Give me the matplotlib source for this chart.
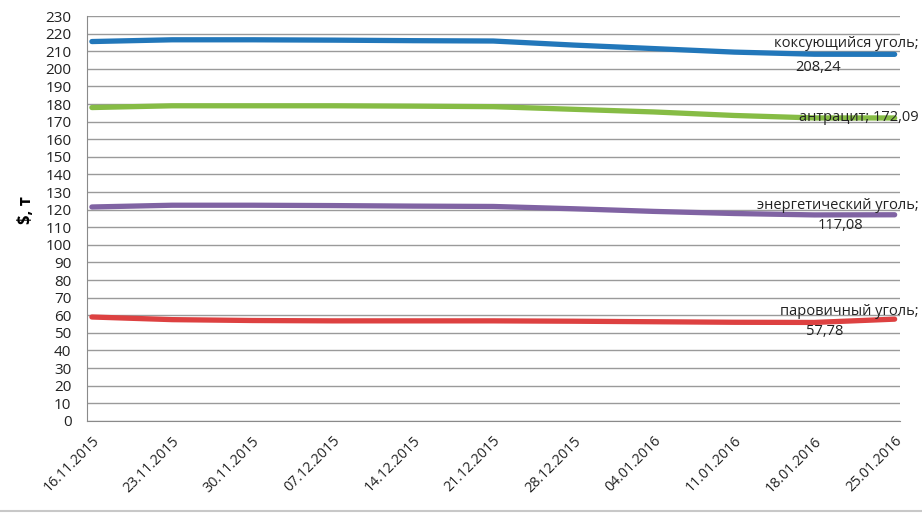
import numpy as np
import matplotlib
matplotlib.use("Agg")
import matplotlib.pyplot as plt
import matplotlib.transforms as mtransforms

plt.rcParams['font.family'] = ['Open Sans', 'DejaVu Sans']

# weekly dates on the x axis
dates = ["16.11.2015", "23.11.2015", "30.11.2015", "07.12.2015", "14.12.2015",
         "21.12.2015", "28.12.2015", "04.01.2016", "11.01.2016", "18.01.2016",
         "25.01.2016"]

# prices, $ per tonne
coking = [215.5, 216.5, 216.5, 216.3, 216.0, 215.8, 213.5, 211.5, 209.5, 208.3, 208.24]
anthracite = [178.0, 179.0, 179.0, 179.0, 178.8, 178.5, 177.0, 175.5, 173.5, 172.1, 172.09]
energy = [121.5, 122.5, 122.5, 122.3, 122.0, 121.8, 120.5, 119.0, 117.8, 117.0, 117.08]
steam = [59.0, 57.5, 57.0, 56.8, 56.8, 56.8, 56.6, 56.3, 56.0, 55.9, 57.78]

colors = ["#2277BA", "#86BC45", "#8063A3", "#DD4141"]

fig = plt.figure(figsize=(9.22, 5.17), dpi=100)
ax = fig.add_axes([0.094, 0.186, 0.882, 0.783])

x = np.arange(len(dates))
for vals, col in zip([coking, anthracite, energy, steam], colors):
    ax.plot(x, vals, color=col, lw=3.8, solid_capstyle='round',
            solid_joinstyle='round', zorder=3)

ax.set_xlim(-0.065, 10.065)
ax.set_ylim(0, 230)
ax.set_yticks(np.arange(0, 231, 10))
ax.yaxis.grid(True, color='#9a9a9a', lw=1.0)
ax.set_axisbelow(True)
for s in ['top', 'right']:
    ax.spines[s].set_visible(False)
ax.spines['left'].set_color('#8a8a8a')
ax.spines['bottom'].set_color('#8a8a8a')
ax.tick_params(axis='y', length=0, pad=11, labelsize=11, colors='#222222')
ax.tick_params(axis='x', length=0, pad=13, labelsize=10.3, colors='#222222')
ax.set_xticks(x)
ax.set_xticklabels(dates, rotation=45, ha='right', va='center',
                   rotation_mode='anchor')
shift = mtransforms.ScaledTranslation(5 / 100, 0, fig.dpi_scale_trans)
for lab in ax.get_xticklabels():
    lab.set_transform(lab.get_transform() + shift)
ax.set_ylabel("$, т", fontsize=12, fontweight='bold')
ax.yaxis.set_label_coords(-0.063, 0.52)

# end-of-line data labels
last = len(dates) - 1
kw = dict(fontsize=10.5, va='center', color='#222222', clip_on=False, zorder=4)
ax.text(10.30, coking[last] + 6, "коксующийся уголь;", ha='right', **kw)
ax.text(9.05, coking[last] - 7.5, "208,24", ha='center', **kw)
ax.text(10.30, anthracite[last], "антрацит; 172,09", ha='right', **kw)
ax.text(10.30, energy[last] + 5, "энергетический уголь;", ha='right', **kw)
ax.text(9.32, energy[last] - 6, "117,08", ha='center', **kw)
ax.text(10.30, steam[last] + 4.5, "паровичный уголь;", ha='right', **kw)
ax.text(9.13, steam[last] - 7, "57,78", ha='center', **kw)

# light frame line at the bottom of the image
fig.add_artist(plt.Line2D([0, 1], [0.012, 0.012], color='#c8c8c8', lw=1.5))

fig.savefig("out.png", dpi=100)
